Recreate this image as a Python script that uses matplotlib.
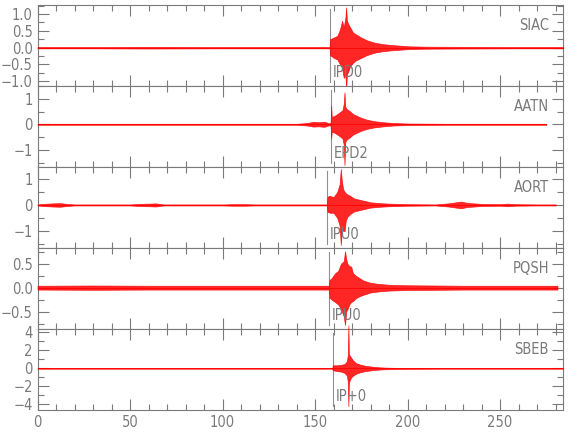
import numpy as np
import matplotlib
matplotlib.use('Agg')
import matplotlib.pyplot as plt
from matplotlib.ticker import MultipleLocator, FuncFormatter

# station names, pick labels and pick times (s)
stations = ['SIAC', 'AATN', 'AORT', 'PQSH', 'SBEB']
pick_labels = ['IPD0', 'EPD2', 'IPU0', 'IPU0', 'IP+0']
pick_times = [158.1, 158.6, 156.6, 157.7, 159.5]

# amplitude envelopes: knot times, upper and lower bounds
siac_t = [0, 30, 60, 100, 140, 157.9, 158.1, 160, 162, 163.5, 164.6, 165.5, 166.4, 166.8, 167.2,
          168, 169, 170.5, 172, 175, 178, 182, 186, 191, 196, 201, 210, 230, 260, 284]
siac_hi = [0.02, 0.02, 0.025, 0.02, 0.02, 0.02, 0.25, 0.3, 0.35, 0.55, 0.8, 0.6, 0.9, 1.2, 0.8,
           0.7, 0.6, 0.45, 0.4, 0.3, 0.22, 0.15, 0.11, 0.08, 0.06, 0.04, 0.03, 0.025, 0.02, 0.02]
siac_lo = [-0.02, -0.02, -0.025, -0.02, -0.02, -0.02, -0.22, -0.3, -0.35, -0.5, -0.6, -0.9, -0.8, -1.25, -0.8,
           -0.7, -0.55, -0.45, -0.38, -0.3, -0.22, -0.15, -0.11, -0.08, -0.06, -0.04, -0.03, -0.025, -0.02, -0.02]

aatn_t = [0, 50, 100, 140, 146, 149, 152, 155, 157.5, 158.4, 158.7, 159.0, 159.5, 161, 163, 164.8,
          165.5, 165.9, 166.3, 167, 168, 169, 170.5, 172, 175, 178, 182, 187, 192, 200, 220, 250, 275]
aatn_hi = [0.02, 0.02, 0.02, 0.02, 0.05, 0.1, 0.08, 0.1, 0.04, 0.05, 0.75, 0.3, 0.3, 0.35, 0.45, 0.55,
           0.8, 1.25, 0.7, 0.6, 0.55, 0.5, 0.4, 0.35, 0.25, 0.18, 0.12, 0.08, 0.05, 0.03, 0.02, 0.02, 0.02]
aatn_lo = [-0.02, -0.02, -0.02, -0.02, -0.05, -0.09, -0.08, -0.1, -0.04, -0.05, -0.55, -0.3, -0.3, -0.35, -0.45, -0.55,
           -0.8, -1.6, -0.7, -0.6, -0.55, -0.5, -0.4, -0.35, -0.25, -0.18, -0.12, -0.08, -0.05, -0.03, -0.02, -0.02, -0.02]

aort_t = [0, 3, 8, 12, 16, 20, 50, 55, 60, 64, 68, 100, 105, 112, 118, 140, 156.4, 156.7, 158, 160, 162,
          163.3, 163.9, 164.5, 165.2, 166, 166.6, 167.5, 169, 171, 174, 177, 180, 185, 190, 200, 215,
          222, 226, 229, 232, 236, 240, 250, 254, 258, 270, 280]
aort_hi = [0.02, 0.04, 0.06, 0.07, 0.04, 0.02, 0.02, 0.04, 0.05, 0.06, 0.02, 0.02, 0.03, 0.03, 0.02, 0.02, 0.02, 0.32, 0.35, 0.3, 0.5,
           0.8, 1.38, 0.9, 0.6, 0.5, 0.45, 0.4, 0.35, 0.25, 0.2, 0.15, 0.1, 0.07, 0.05, 0.03, 0.02,
           0.06, 0.1, 0.13, 0.08, 0.06, 0.04, 0.03, 0.05, 0.03, 0.02, 0.02]
aort_lo = [-0.02, -0.04, -0.06, -0.07, -0.04, -0.02, -0.02, -0.04, -0.05, -0.06, -0.02, -0.02, -0.03, -0.03, -0.02, -0.02, -0.02, -0.26, -0.3, -0.3, -0.5,
           -0.8, -1.54, -0.9, -1.0, -1.0, -0.6, -0.45, -0.35, -0.25, -0.2, -0.15, -0.1, -0.07, -0.05, -0.03, -0.02,
           -0.06, -0.1, -0.13, -0.08, -0.06, -0.04, -0.03, -0.05, -0.03, -0.02, -0.02]

pqsh_t = [0, 30, 60, 100, 130, 157.5, 157.8, 159, 160.8, 162.5, 164, 165.5, 166.2, 166.8, 167.5, 168.5,
          169.5, 170.5, 172, 174, 176, 180, 184, 190, 200, 230, 260, 281]
pqsh_hi = [0.04, 0.045, 0.04, 0.04, 0.04, 0.04, 0.16, 0.2, 0.3, 0.35, 0.5, 0.55, 0.76, 0.6, 0.5, 0.45,
           0.44, 0.3, 0.25, 0.2, 0.15, 0.1, 0.08, 0.06, 0.05, 0.04, 0.04, 0.04]
pqsh_lo = [-0.04, -0.045, -0.04, -0.04, -0.04, -0.04, -0.21, -0.25, -0.3, -0.35, -0.45, -0.6, -0.78, -0.5, -0.45, -0.35,
           -0.3, -0.28, -0.22, -0.18, -0.15, -0.1, -0.08, -0.06, -0.05, -0.04, -0.04, -0.04]

sbeb_t = [0, 50, 100, 150, 159.3, 159.6, 162, 164, 166, 167.2, 167.7, 168.0, 168.3, 168.8, 169.5,
          170.5, 172, 174, 177, 180, 183, 187, 192, 200, 220, 250, 284]
sbeb_hi = [0.03, 0.03, 0.03, 0.03, 0.03, 0.35, 0.35, 0.4, 0.5, 0.8, 1.5, 4.8, 1.6, 1.4, 1.2,
           0.9, 0.6, 0.45, 0.3, 0.22, 0.15, 0.1, 0.07, 0.05, 0.03, 0.03, 0.03]
sbeb_lo = [-0.03, -0.03, -0.03, -0.03, -0.03, -0.2, -0.3, -0.35, -0.5, -0.8, -1.5, -4.2, -1.6, -1.3, -1.0,
           -0.8, -0.6, -0.45, -0.3, -0.22, -0.15, -0.1, -0.07, -0.05, -0.03, -0.03, -0.03]

traces = [(siac_t, siac_hi, siac_lo), (aatn_t, aatn_hi, aatn_lo), (aort_t, aort_hi, aort_lo),
          (pqsh_t, pqsh_hi, pqsh_lo), (sbeb_t, sbeb_hi, sbeb_lo)]

# axis setup per panel
ylims = [(-1.14, 1.27), (-1.67, 1.5), (-1.65, 1.46), (-0.86, 0.83), (-4.6, 4.4)]
ymajor = [0.5, 1, 1, 0.5, 2]
yminor = [0.25, 0.5, 0.5, 0.25, 1]
yfmt = ['%.1f', '%d', '%d', '%.1f', '%d']

plt.rcParams['font.family'] = 'DejaVu Sans'
plt.rcParams['font.stretch'] = 'condensed'
gray = '#7a7a7a'


def minus_fmt(fmt):
    # IDL-style labels with a long minus sign
    return FuncFormatter(lambda v, pos: (fmt % v).replace('-', '\u2212'))


fig = plt.figure(figsize=(5.8, 4.4), dpi=100)
left, width = 0.0647, 0.906
top, h = 0.9886, 0.184

axes = []
for i in range(5):
    ax = fig.add_axes([left, top - (i + 1) * h, width, h], sharex=axes[0] if axes else None)
    axes.append(ax)
    t, hi, lo = traces[i]
    ax.fill_between(t, lo, hi, color='red', alpha=0.85, linewidth=0.5, clip_on=False, zorder=3)
    ax.plot(t, np.zeros(len(t)), color='red', linewidth=0.6, clip_on=False, zorder=3)
    ax.axvline(pick_times[i], ymin=0.05, ymax=0.95, color='#909090', linewidth=0.8, zorder=2)
    ax.text(pick_times[i] + 1.5, 0.17, pick_labels[i], transform=ax.get_xaxis_transform(),
            color=gray, fontsize=10.5, va='center', ha='left')
    ax.text(0.973, 0.75, stations[i], transform=ax.transAxes, color=gray, fontsize=10.5,
            ha='right', va='center')

    ax.set_xlim(0, 284)
    ax.set_ylim(*ylims[i])
    ax.xaxis.set_major_locator(MultipleLocator(50))
    ax.xaxis.set_minor_locator(MultipleLocator(10))
    ax.yaxis.set_major_locator(MultipleLocator(ymajor[i]))
    ax.yaxis.set_minor_locator(MultipleLocator(yminor[i]))
    ax.yaxis.set_major_formatter(minus_fmt(yfmt[i]))
    ax.tick_params(which='both', direction='in', top=True, right=True, colors=gray,
                   labelsize=10.5, width=0.8)
    ax.tick_params(which='major', length=8)
    ax.tick_params(which='minor', length=4)
    for s in ax.spines.values():
        s.set_color(gray)
        s.set_linewidth(0.8)
    if i < 4:
        ax.tick_params(labelbottom=False)

fig.savefig('out.png', dpi=100)
